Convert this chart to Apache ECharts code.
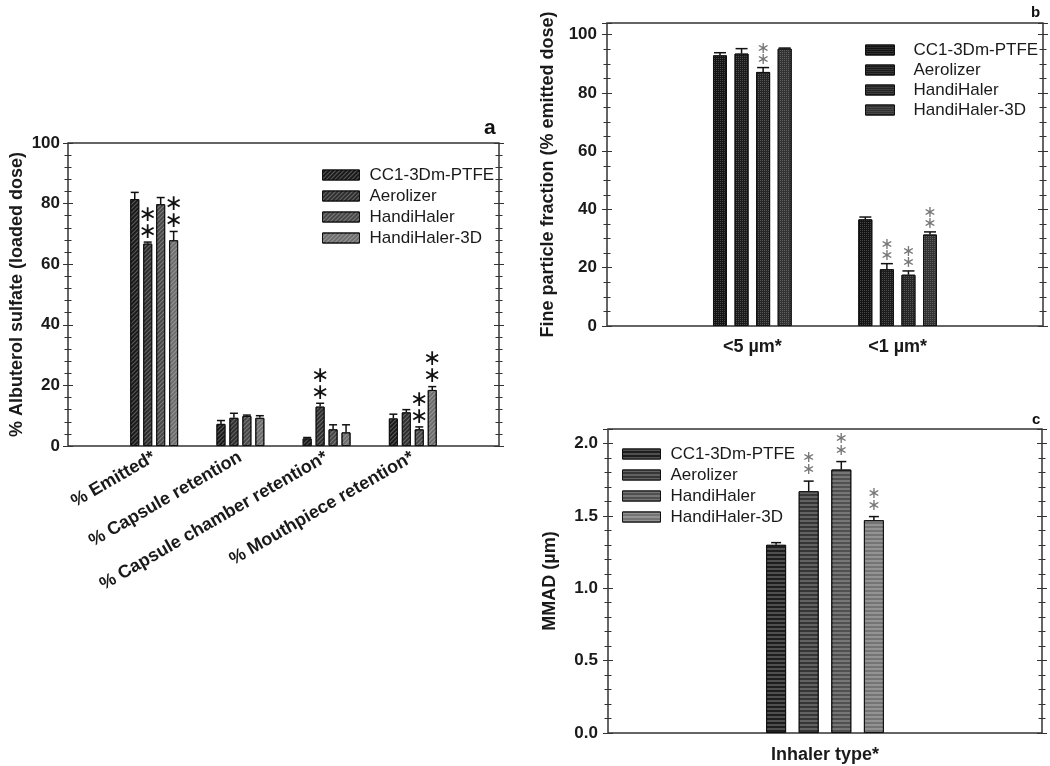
<!DOCTYPE html>
<html><head><meta charset="utf-8">
<script src="https://cdn.jsdelivr.net/npm/echarts@6/dist/echarts.min.js"></script>
<style>html,body{margin:0;padding:0;background:#fff}#c{width:1050px;height:766px}</style>
</head><body><div id="c"></div>
<script>
// ---------- DATA ----------
const seriesNames = ['CC1-3Dm-PTFE', 'Aerolizer', 'HandiHaler', 'HandiHaler-3D'];

// Panel a
const catsA = ['% Emitted*', '% Capsule retention', '% Capsule chamber retention*', '% Mouthpiece retention*'];
const cc1A = [81.5, 7.3, 2.5, 9.1];
const aeroA = [66.8, 9.3, 13.0, 11.1];
const hhA = [79.8, 9.9, 5.5, 5.5];
const hh3dA = [67.9, 9.3, 4.5, 18.5];
const cc1AErr = [2.2, 1.1, 0.3, 1.4];
const aeroAErr = [0.5, 1.5, 1.1, 0.9];
const hhAErr = [2.2, 0.3, 1.5, 0.8];
const hh3dAErr = [2.9, 0.7, 2.5, 1.1];
const cc1ASig = [0, 0, 0, 0];
const aeroASig = [1, 0, 1, 0];
const hhASig = [0, 0, 0, 1];
const hh3dASig = [1, 0, 0, 1];
const yTicksA = [0, 20, 40, 60, 80, 100];

// Panel b
const catsB = ['<5 µm*', '<1 µm*'];
const cc1B = [92.9, 36.6];
const aeroB = [93.5, 19.5];
const hhB = [87.2, 17.6];
const hh3dB = [95.2, 31.4];
const cc1BErr = [0.9, 0.8];
const aeroBErr = [1.7, 1.9];
const hhBErr = [1.5, 1.3];
const hh3dBErr = [0.2, 0.9];
const cc1BSig = [0, 0];
const aeroBSig = [0, 1];
const hhBSig = [1, 1];
const hh3dBSig = [0, 1];
const yTicksB = [0, 20, 40, 60, 80, 100];

// Panel c
const catsC = ['Inhaler type*'];
const cc1C = [1.30];
const aeroC = [1.67];
const hhC = [1.82];
const hh3dC = [1.47];
const cc1CErr = [0.015];
const aeroCErr = [0.07];
const hhCErr = [0.055];
const hh3dCErr = [0.025];
const cc1CSig = [0];
const aeroCSig = [1];
const hhCSig = [1];
const hh3dCSig = [1];
const yTicksC = [0, 0.5, 1.0, 1.5, 2.0];

// ---------- STYLE / LAYOUT ----------
const FONT = '"Liberation Sans", Arial, sans-serif';
const panels = [
  {
    cats: catsA, pad: true, vals: [cc1A, aeroA, hhA, hh3dA], errs: [cc1AErr, aeroAErr, hhAErr, hh3dAErr],
    sigs: [cc1ASig, aeroASig, hhASig, hh3dASig], ticks: yTicksA,
    grid: {left: 68, top: 143, width: 431, height: 303}, max: 100, interval: 20, minor: 4, dec: 0,
    name: '% Albuterol sulfate (loaded dose)', nameGap: 42, labelMargin: 8,
    xRotate: 30, xMargin: 10,
    barW: 9, gap: 0.44, cap: 8, d1: 10, sp: 17, starSize: 22, starColor: '#111',
    colors: ['#1a1a1a', '#2e2e2e', '#484848', '#6e6e6e'],
    decal: {symbol: 'rect', symbolSize: 1, color: 'rgba(255,255,255,0.28)', dashArrayX: [1, 0], dashArrayY: [1, 2], rotation: -Math.PI / 4},
    legend: {left: 322, top: 166, itemWidth: 37, itemGap: 3, textPad: 5}
  },
  {
    cats: catsB, pad: true, vals: [cc1B, aeroB, hhB, hh3dB], errs: [cc1BErr, aeroBErr, hhBErr, hh3dBErr],
    sigs: [cc1BSig, aeroBSig, hhBSig, hh3dBSig], ticks: yTicksB,
    grid: {left: 607, top: 23, width: 436, height: 303}, max: 104, interval: 20, minor: 5, dec: 0,
    name: 'Fine particle fraction (% emitted dose)', nameGap: 50, labelMargin: 10,
    xRotate: 0, xMargin: 12,
    barW: 14, gap: 0.54, cap: 12, d1: 8, sp: 11, starSize: 16, starColor: '#777',
    colors: ['#141414', '#1c1c1c', '#262626', '#333333'],
    decal: {symbol: 'rect', symbolSize: 1, color: 'rgba(255,255,255,0.22)', dashArrayX: [1, 1], dashArrayY: [1, 1]},
    legend: {left: 865, top: 41, itemWidth: 29, itemGap: 2, textPad: 14}
  },
  {
    cats: catsC, pad: false, vals: [cc1C, aeroC, hhC, hh3dC], errs: [cc1CErr, aeroCErr, hhCErr, hh3dCErr],
    sigs: [cc1CSig, aeroCSig, hhCSig, hh3dCSig], ticks: yTicksC,
    grid: {left: 608, top: 429, width: 434, height: 304}, max: 2.1, interval: 0.5, minor: 0.1, dec: 1,
    name: 'MMAD (µm)', nameGap: 49, labelMargin: 10,
    xRotate: 0, xMargin: 13,
    barW: 20, gap: 0.63, cap: 10, d1: 11, sp: 12, starSize: 16, starColor: '#777',
    colors: ['#1e1e1e', '#363636', '#505050', '#747474'],
    decal: {symbol: 'rect', symbolSize: 1, color: 'rgba(255,255,255,0.22)', dashArrayX: [1, 0], dashArrayY: [2, 2]},
    legend: {left: 622, top: 445, itemWidth: 38, itemGap: 3, textPad: 5}
  }
];

const grids = [], xAxes = [], yAxes = [], series = [], legends = [];
panels.forEach((p, gi) => {
  grids.push(Object.assign({show: true, borderColor: '#333', borderWidth: 1.5, backgroundColor: 'transparent'}, p.grid));
  const shift = p.pad ? 1 : 0;
  xAxes.push({
    gridIndex: gi, type: 'category', data: p.pad ? [''].concat(p.cats, ['']) : p.cats,
    boundaryGap: !p.pad, axisLine: {show: false}, axisTick: {show: false},
    axisLabel: {interval: 0, rotate: p.xRotate, margin: p.xMargin, fontFamily: FONT, fontWeight: 'bold', fontSize: 18, color: '#1a1a1a'}
  });
  const tickSet = p.ticks.map(v => v.toFixed(p.dec));
  const base = {gridIndex: gi, type: 'value', min: 0, max: p.max, axisLine: {show: false}, splitLine: {show: false}};
  const tk = (len) => ({show: true, length: len, lineStyle: {color: '#333', width: 1}});
  yAxes.push(Object.assign({}, base, {
    position: 'left', interval: p.interval, offset: -5, axisTick: tk(10),
    axisLabel: {margin: p.labelMargin + 5, fontFamily: FONT, fontWeight: 'bold', fontSize: 17, color: '#1a1a1a',
      formatter: v => { const s = (+v).toFixed(p.dec); return tickSet.indexOf(s) >= 0 ? s : ''; }},
    name: p.name, nameLocation: 'middle', nameGap: p.nameGap + 5, nameRotate: 90,
    nameTextStyle: {fontFamily: FONT, fontWeight: 'bold', fontSize: 18, color: '#1a1a1a'}
  }));
  yAxes.push(Object.assign({}, base, {position: 'left', interval: p.minor, offset: -3.5, axisTick: tk(7), axisLabel: {show: false}}));
  yAxes.push(Object.assign({}, base, {position: 'right', interval: p.interval, offset: -5, axisTick: tk(10), axisLabel: {show: false}}));
  yAxes.push(Object.assign({}, base, {position: 'right', interval: p.minor, offset: -3.5, axisTick: tk(7), axisLabel: {show: false}}));

  p.vals.forEach((arr, s) => {
    series.push({
      type: 'bar', name: seriesNames[s], xAxisIndex: gi, yAxisIndex: gi * 4,
      barWidth: p.barW, barGap: Math.round(p.gap * 100) + '%',
      itemStyle: {color: p.colors[s], borderColor: '#111', borderWidth: 1, decal: p.decal},
      data: arr.map((v, i) => [i + shift, v]), z: 2
    });
  });

  const edata = [];
  p.vals.forEach((arr, s) => arr.forEach((v, i) => edata.push([i + shift, v, p.errs[s][i], s, p.sigs[s][i]])));
  const gapPx = p.barW * p.gap;
  series.push({
    type: 'custom', xAxisIndex: gi, yAxisIndex: gi * 4, z: 5, data: edata, encode: {x: 0, y: 1}, silent: true,
    renderItem: function (params, api) {
      const x = api.value(0), v = api.value(1), e = api.value(2), s = api.value(3), sg = api.value(4);
      const b = api.coord([x, v]), t = api.coord([x, v + e]);
      const cx = b[0] + (s - 1.5) * (p.barW + gapPx);
      const ch = [
        {type: 'line', shape: {x1: cx, y1: b[1], x2: cx, y2: t[1]}, style: {stroke: '#111', lineWidth: 1.5}},
        {type: 'line', shape: {x1: cx - p.cap / 2, y1: t[1], x2: cx + p.cap / 2, y2: t[1]}, style: {stroke: '#111', lineWidth: 1.5}}
      ];
      if (sg) {
        for (let k = 0; k < 2; k++) {
          ch.push({type: 'text', x: cx, y: t[1] - p.d1 - k * p.sp,
            style: {text: '\u2217', fill: p.starColor, fontFamily: '"DejaVu Sans", sans-serif', fontSize: p.starSize, align: 'center', verticalAlign: 'middle'}});
        }
      }
      return {type: 'group', children: ch};
    }
  });

  legends.push({
    left: p.legend.left, top: p.legend.top, orient: 'vertical', padding: 0, selectedMode: false,
    itemWidth: p.legend.itemWidth, itemHeight: 10, itemGap: p.legend.itemGap, icon: 'rect',
    textStyle: {fontFamily: FONT, fontSize: 17, color: '#1a1a1a', lineHeight: 18, padding: [0, 0, 0, p.legend.textPad]},
    data: seriesNames.map((n, s) => ({name: n, itemStyle: {color: p.colors[s], borderColor: '#111', borderWidth: 1, decal: p.decal}}))
  });
});

const chart = echarts.init(document.getElementById('c'), null, {renderer: 'canvas'});
chart.setOption({
  animation: false,
  backgroundColor: '#fff',
  title: [
    {text: 'a', left: 479, top: 113, textStyle: {fontFamily: FONT, fontWeight: 'bold', fontSize: 21, color: '#111'}},
    {text: 'b', left: 1026, top: 0, textStyle: {fontFamily: FONT, fontWeight: 'bold', fontSize: 15, color: '#111'}},
    {text: 'c', left: 1027, top: 407, textStyle: {fontFamily: FONT, fontWeight: 'bold', fontSize: 15, color: '#111'}}
  ],
  grid: grids, xAxis: xAxes, yAxis: yAxes, legend: legends, series: series
});
</script>
</body></html>
